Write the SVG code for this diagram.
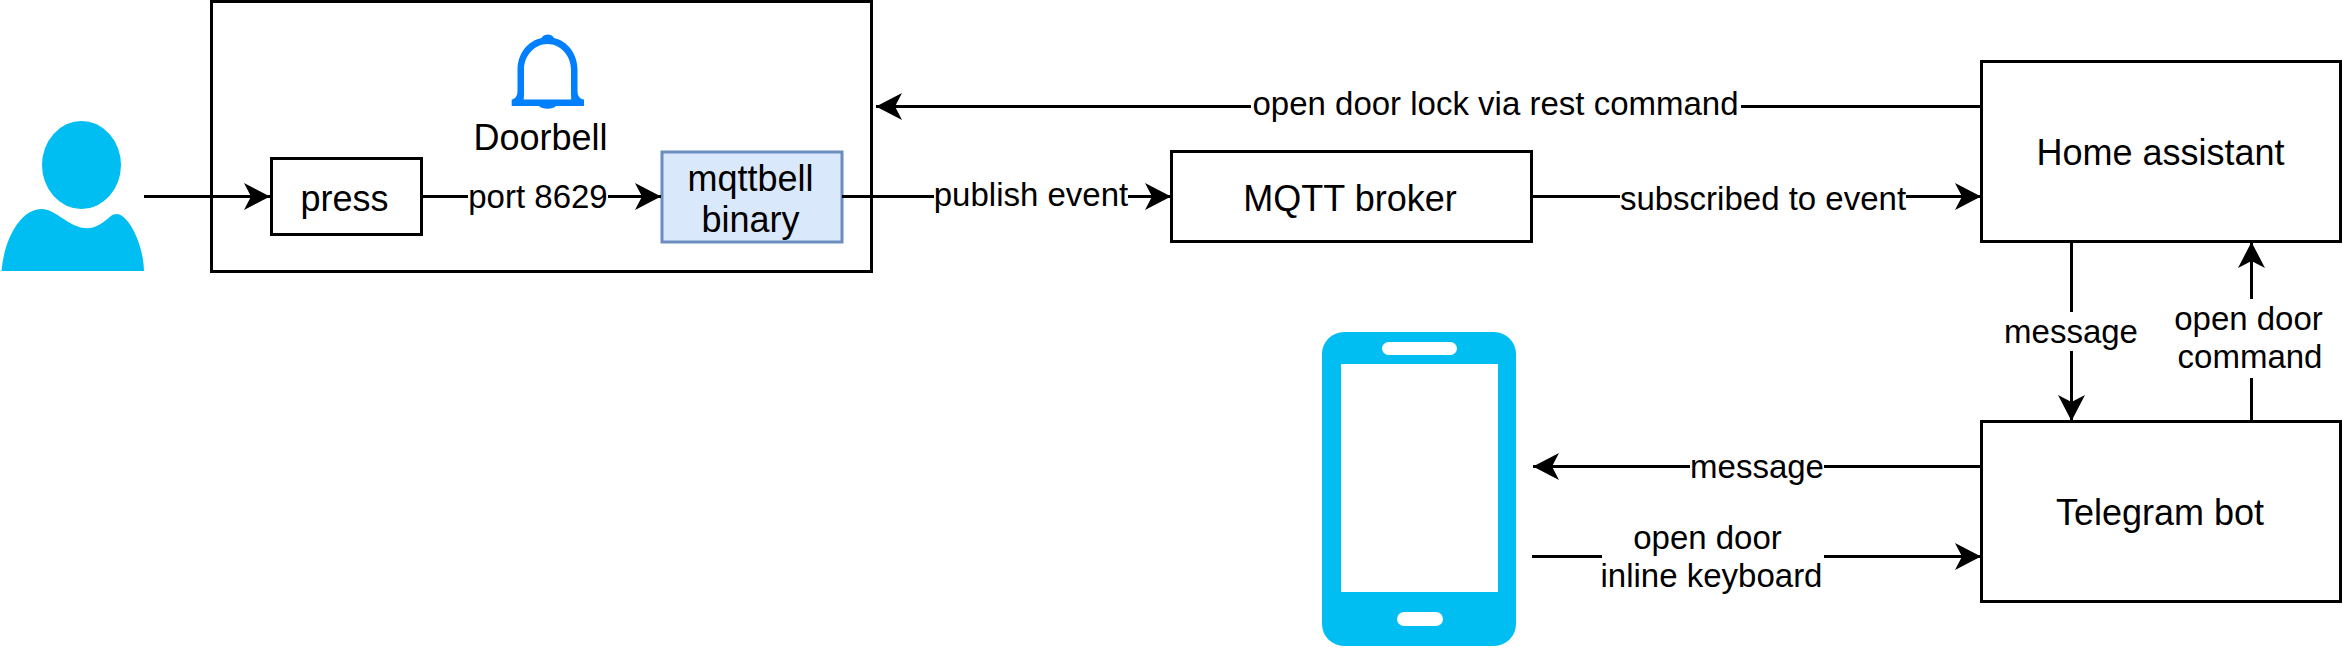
<svg xmlns="http://www.w3.org/2000/svg" width="2343" height="648" viewBox="0 0 2343 648">
<style>
text{font-family:"Liberation Sans",Arial,sans-serif;fill:#000;text-anchor:middle}
.n{font-size:36px}
.e{font-size:33px}
.b{fill:#fff;stroke:#000;stroke-width:3}
.c{fill:none;stroke:#000;stroke-width:3}
.i{fill:#00bef2}
.w{fill:#fff}
</style>
<defs>
<marker id="a" markerUnits="userSpaceOnUse" markerWidth="28" markerHeight="28" refX="26" refY="13.5" orient="auto">
<path d="M0 0L26 13.5L0 27L7 13.5Z" fill="#000"/>
</marker>
</defs>
<rect width="2343" height="648" fill="#fff"/>
<g id="doorbell">
<rect class="b" x="211.500" y="1.500" width="660" height="270"/>
<path fill="#007fff" fill-rule="evenodd" d="M511.700 106V99.500C515 99.300 517.500 96 517.500 91V70C517.500 53 528 41 541.500 38C543 35 545.500 34.500 547.700 34.500C550 34.500 552.500 35 554 38C567 41 577.500 53 577.500 70V91C577.500 96 580 99.300 584 99.500V106H556C553 109.500 542 109.500 539 106ZM523.700 99.500H571.200C571.200 97 571 95 571 91V70C571 55 560 44 547.500 44C535 44 524 55 524 70V91C524 95 524 97 523.700 99.500Z"/>
<text class="n" x="540.500" y="150">Doorbell</text>
</g>
<g id="person">
<ellipse class="i" cx="81.500" cy="165" rx="39.500" ry="44"/>
<path class="i" d="M1.500 271C4 240 20 209 41.700 209C48 209 55 213 60 216.700C70 223 78 228.300 87.300 228.300C96 228.300 104 222 110 216.700C112 214.700 114.500 214 116.700 214C127 214 143 240 144 271Z"/>
</g>
<g id="press">
<rect class="b" x="271.500" y="158.500" width="150" height="76"/>
<text class="n" x="344.500" y="211">press</text>
</g>
<g id="mqttbell">
<rect x="662" y="152" width="180" height="90" fill="#dae8fc" stroke="#6c8ebf" stroke-width="3"/>
<text class="n" x="750.500" y="191">mqttbell</text>
<text class="n" x="750.500" y="232">binary</text>
</g>
<g id="mqtt-broker">
<rect class="b" x="1171.500" y="151.500" width="360" height="90"/>
<text class="n" x="1350" y="211">MQTT broker</text>
</g>
<g id="home-assistant">
<rect class="b" x="1981.500" y="61.500" width="359" height="180"/>
<text class="n" x="2160.500" y="165">Home assistant</text>
</g>
<g id="telegram-bot">
<rect class="b" x="1981.500" y="421.500" width="359" height="180"/>
<text class="n" x="2160" y="525">Telegram bot</text>
</g>
<g id="phone">
<rect class="i" x="1322" y="332" width="194" height="314" rx="22"/>
<rect class="w" x="1341" y="364" width="157" height="228"/>
<rect class="w" x="1382" y="342" width="75" height="13" rx="6.500"/>
<rect class="w" x="1397" y="612" width="46" height="14" rx="7"/>
</g>
<g id="connectors">
<path class="c" marker-end="url(#a)" d="M144 196.500H270"/>
<path class="c" marker-end="url(#a)" d="M422 196.500H661"/>
<path class="c" marker-end="url(#a)" d="M842 196.500H1171"/>
<path class="c" marker-end="url(#a)" d="M1532 196.500H1981"/>
<path class="c" marker-end="url(#a)" d="M1981 106.500H876"/>
<path class="c" marker-end="url(#a)" d="M2071.500 241V421"/>
<path class="c" marker-end="url(#a)" d="M2251.500 421V242"/>
<path class="c" marker-end="url(#a)" d="M1981 466.500H1533"/>
<path class="c" marker-end="url(#a)" d="M1532 556.500H1981"/>
<g>
<rect class="w" x="468" y="176" width="140" height="40"/><text class="e" x="538" y="207.500">port 8629</text>
<rect class="w" x="934" y="180" width="194" height="36"/><text class="e" x="1031" y="206">publish event</text>
<rect class="w" x="1620" y="180" width="286" height="40"/><text class="e" x="1763" y="209.500">subscribed to event</text>
<rect class="w" x="1251" y="88" width="490" height="38"/><text class="e" x="1495.500" y="114.500">open door lock via rest command</text>
<rect class="w" x="2005" y="312" width="132" height="39"/><text class="e" x="2071" y="343">message</text>
<rect class="w" x="2175" y="299" width="152" height="79"/><text class="e" x="2248.500" y="330">open door</text><text class="e" x="2250" y="368">command</text>
<rect class="w" x="1690" y="448" width="134" height="36"/><text class="e" x="1757" y="478">message</text>
<rect class="w" x="1602" y="522" width="222" height="76"/><text class="e" x="1707.500" y="549">open door</text><text class="e" x="1711.500" y="587">inline keyboard</text>
</g>
</g>
</svg>
